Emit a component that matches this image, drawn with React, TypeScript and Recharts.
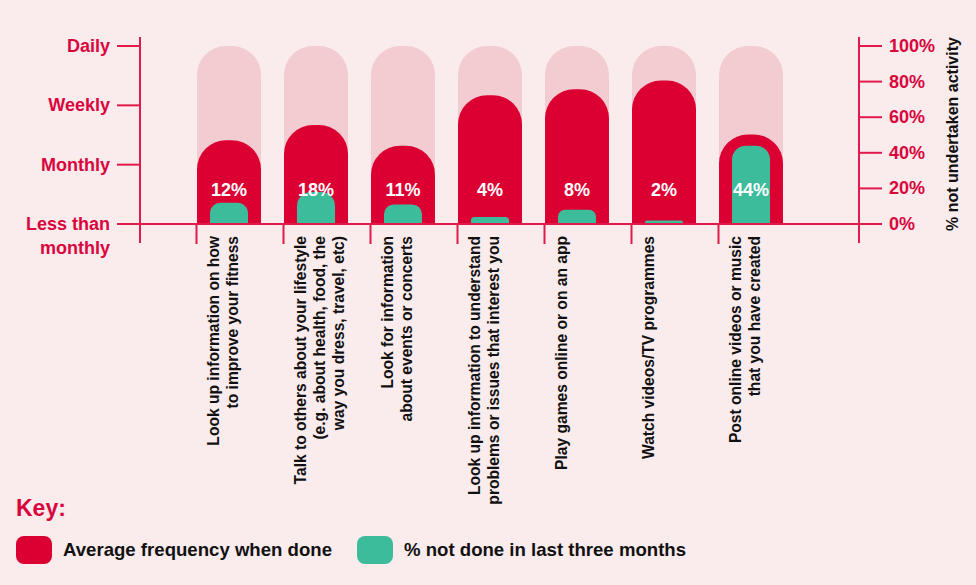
import React from 'react';
import { BarChart, Bar, XAxis, YAxis, ReferenceLine, LabelList, Legend } from 'recharts';

const categories: string[][] = [
  ['Look up information on how', 'to improve your fitness'],
  ['Talk to others about your lifestyle', '(e.g. about health, food, the', 'way you dress, travel, etc)'],
  ['Look for information', 'about events or concerts'],
  ['Look up information to understand', 'problems or issues that interest you'],
  ['Play games online or on an app'],
  ['Watch videos/TV programmes'],
  ['Post online videos or music', 'that you have created'],
];
// 0 = Less than monthly, 1 = Monthly, 2 = Weekly, 3 = Daily
const frequencyValues = [1.41, 1.67, 1.32, 2.17, 2.27, 2.42, 1.51];
const notDonePercent = [12, 18, 11, 4, 8, 2, 44];
const frequencyTickLabels = ['Less than monthly', 'Monthly', 'Weekly', 'Daily'];
const frequencyTicks = [0, 1, 2, 3];
const percentTicks = [0, 20, 40, 60, 80, 100];
const maxFrequency = 3;
const legendOrder = ['freq', 'notDone'];

const data = categories.map((lines, i) => ({
  name: lines.join(' '),
  full: maxFrequency,
  freq: frequencyValues[i],
  notDone: notDonePercent[i],
}));

const FONT = '"Liberation Sans", Arial, Helvetica, sans-serif';
const PAGE_BG = '#FAEBEC';
const BG_BAR = '#F2CCD0';
const RED = '#DC0032';
const GREEN = '#3DBC9C';
const AXIS = '#E11A4B';
const TICK_TEXT = '#D9053D';

const LeftTick = (props: any) => {
  const { x, y, payload } = props;
  const label = frequencyTickLabels[payload.value] ?? '';
  if (label === 'Less than monthly') {
    return (
      <g>
        <text x={x} y={y} textAnchor="end" dominantBaseline="central" fill={TICK_TEXT} fontFamily={FONT} fontWeight="bold" fontSize={18}>Less than</text>
        <text x={x} y={y + 24} textAnchor="end" dominantBaseline="central" fill={TICK_TEXT} fontFamily={FONT} fontWeight="bold" fontSize={18}>monthly</text>
      </g>
    );
  }
  return (
    <text x={x} y={y} textAnchor="end" dominantBaseline="central" fill={TICK_TEXT} fontFamily={FONT} fontWeight="bold" fontSize={18}>{label}</text>
  );
};

const RightTick = (props: any) => {
  const { x, y, payload } = props;
  return (
    <text x={x} y={y} textAnchor="start" dominantBaseline="central" fill={TICK_TEXT} fontFamily={FONT} fontWeight="bold" fontSize={18}>{payload.value}%</text>
  );
};

const CategoryTick = (props: any) => {
  const { x, y, payload } = props;
  const lines = categories[payload.index] ?? [];
  const axisY = y - 29;
  const top = axisY - 8;
  return (
    <g>
      <line x1={x - 32} y1={axisY - 19} x2={x - 32} y2={axisY} stroke={AXIS} strokeWidth={2} />
      {lines.map((ln, i) => {
        const lx = x - 15 + i * 19;
        return (
          <text key={i} x={lx} y={top} transform={`rotate(-90, ${lx}, ${top})`} textAnchor="end" dominantBaseline="central" fill="#111" fontFamily={FONT} fontWeight="bold" fontSize={15.6}>{ln}</text>
        );
      })}
    </g>
  );
};

const PctLabel = (props: any) => {
  const vb = props.viewBox ?? props;
  const x = vb.x ?? props.x;
  const y = vb.y ?? props.y;
  const width = vb.width ?? props.width;
  const height = vb.height ?? props.height;
  const bottom = y + height;
  return (
    <text x={x + width / 2} y={bottom - 34} textAnchor="middle" dominantBaseline="central" fill="#fff" fontFamily={FONT} fontWeight="bold" fontSize={18}>{props.value}%</text>
  );
};

const RightTitle = (props: any) => {
  const vb = props.viewBox;
  const cx = vb.x + 93;
  const cy = vb.y + vb.height / 2 - 6;
  return (
    <text x={cx} y={cy} transform={`rotate(-90, ${cx}, ${cy})`} textAnchor="middle" dominantBaseline="central" fill="#111" fontFamily={FONT} fontWeight="bold" fontSize={16}>% not undertaken activity</text>
  );
};

const renderLegend = (props: any) => {
  const payload = (props.payload ?? [])
    .filter((p: any) => p.type !== 'none')
    .slice()
    .sort((a: any, b: any) => legendOrder.indexOf(a.dataKey) - legendOrder.indexOf(b.dataKey));
  return (
    <div style={{ position: 'relative', width: 976, height: 90, fontFamily: FONT }}>
      <div style={{ position: 'absolute', left: 16, top: 4, fontSize: 23, lineHeight: '28px', fontWeight: 'bold', color: TICK_TEXT }}>Key:</div>
      <div style={{ position: 'absolute', left: 16, top: 46, display: 'flex', alignItems: 'center' }}>
        {payload.map((p: any, i: number) => (
          <div key={i} style={{ display: 'flex', alignItems: 'center', marginRight: 25 }}>
            <div style={{ width: 36, height: 28, borderRadius: 8, background: p.color }} />
            <div style={{ marginLeft: 11, fontSize: 18.6, lineHeight: '28px', fontWeight: 'bold', color: '#111' }}>{p.value}</div>
          </div>
        ))}
      </div>
    </div>
  );
};

export default function App() {
  return (
    <div style={{ position: 'absolute', left: 0, top: 0, width: 976, height: 585, background: PAGE_BG, overflow: 'hidden' }}>
      <BarChart width={976} height={585} data={data} margin={{ top: 37, right: 0, bottom: 0, left: 0 }}>
        <XAxis xAxisId="main" dataKey="name" height={342} padding={{ left: 45, right: 65 }} axisLine={false} tickLine={false} tickSize={0} tickMargin={0} interval={0} tick={<CategoryTick />} />
        <XAxis xAxisId="red" dataKey="name" hide padding={{ left: 45, right: 65 }} />
        <XAxis xAxisId="green" dataKey="name" hide padding={{ left: 45, right: 65 }} />
        <YAxis yAxisId="left" type="number" domain={[-0.32, 3.152]} allowDataOverflow ticks={frequencyTicks} interval={0} width={140}
          axisLine={{ stroke: AXIS, strokeWidth: 2 }} tickLine={{ stroke: AXIS, strokeWidth: 2 }} tickSize={23} tickMargin={7} tick={<LeftTick />} />
        <YAxis yAxisId="right" orientation="right" type="number" domain={[-10.67, 105.06]} allowDataOverflow ticks={percentTicks} interval={0} width={117}
          axisLine={{ stroke: AXIS, strokeWidth: 2 }} tickLine={{ stroke: AXIS, strokeWidth: 2 }} tickSize={23} tickMargin={7} tick={<RightTick />}
          label={{ content: (p: any) => <RightTitle {...p} /> }} />
        <Bar xAxisId="main" yAxisId="left" dataKey="full" fill={BG_BAR} barSize={64} radius={[29, 29, 0, 0]} isAnimationActive={false} legendType="none" />
        <Bar xAxisId="red" yAxisId="left" dataKey="freq" name="Average frequency when done" fill={RED} barSize={64} radius={[29, 29, 0, 0]} isAnimationActive={false} />
        <Bar xAxisId="green" yAxisId="right" dataKey="notDone" name="% not done in last three months" fill={GREEN} barSize={38} radius={[14, 14, 0, 0]} isAnimationActive={false}>
          <LabelList dataKey="notDone" content={<PctLabel />} />
        </Bar>
        <ReferenceLine xAxisId="main" yAxisId="left" y={0} stroke={AXIS} strokeWidth={2} />
        <Legend layout="horizontal" verticalAlign="middle" align="center" content={renderLegend} itemSorter={null as any}
          wrapperStyle={{ top: 490, left: 0, width: 976, height: 90 }} />
      </BarChart>
    </div>
  );
}
